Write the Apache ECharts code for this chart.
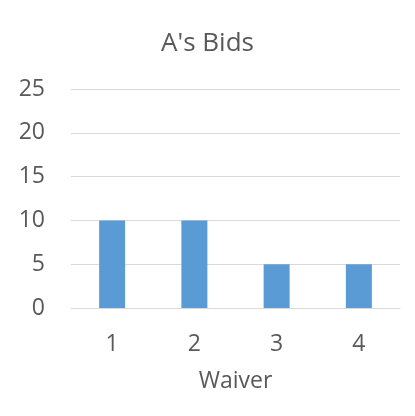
<!DOCTYPE html>
<html>
<head>
<meta charset="utf-8">
<script src="https://cdn.jsdelivr.net/npm/echarts@6/dist/echarts.min.js"></script>
<style>
  html, body { margin: 0; padding: 0; background: #fff; }
  #main { width: 415px; height: 416px; }
</style>
</head>
<body>
<div id="main"></div>
<script>
// data
var waivers = ['1', '2', '3', '4'];
var bids = [10, 10, 5, 5];
var yTicks = { min: 0, max: 25, step: 5 };

var textColor = '#595959';
var chart = echarts.init(document.getElementById('main'));

var option = {
    animation: false,
    title: {
        text: "A's Bids",
        left: 'center',
        top: 26,
        textStyle: { fontFamily: 'Open Sans', fontSize: 26, fontWeight: 'normal', color: textColor }
    },
    grid: { left: 71, right: 15, top: 89, bottom: 108 },
    xAxis: {
        type: 'category',
        data: waivers,
        name: 'Waiver',
        nameLocation: 'middle',
        nameGap: 62,
        nameTextStyle: { fontFamily: 'Open Sans', fontSize: 23, color: textColor },
        axisLine: { lineStyle: { color: '#d9d9d9' } },
        axisTick: { show: false },
        axisLabel: { fontFamily: 'Open Sans', fontSize: 23, color: textColor, margin: 25 }
    },
    yAxis: {
        type: 'value',
        min: yTicks.min,
        max: yTicks.max,
        interval: yTicks.step,
        axisLine: { show: false },
        axisTick: { show: false },
        splitLine: { lineStyle: { color: '#d9d9d9' } },
        axisLabel: { fontFamily: 'Open Sans', fontSize: 23, color: textColor, margin: 26 }
    },
    series: [{
        type: 'bar',
        data: bids,
        barWidth: 26,
        itemStyle: { color: '#5b9bd5' }
    }]
};

chart.setOption(option);
</script>
</body>
</html>
